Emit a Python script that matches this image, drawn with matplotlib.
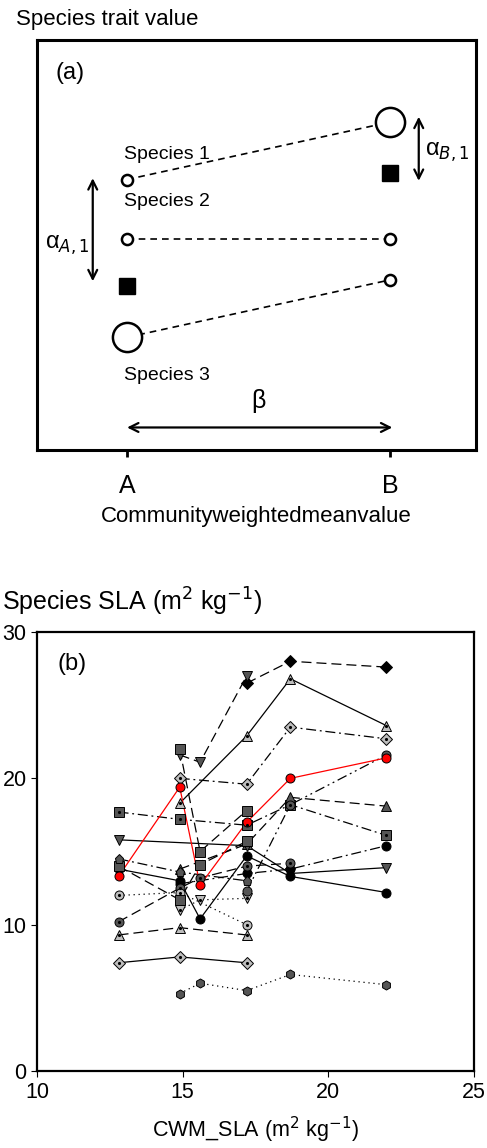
import numpy as np
import matplotlib
matplotlib.use("Agg")
import matplotlib.pyplot as plt

plt.rcParams['font.family'] = ['Liberation Sans', 'DejaVu Sans']

nan = np.nan

# ---- panel (a): schematic values (arbitrary trait units) ----
sites = [0.0, 1.0]
site_labels = ['A', 'B']
sp1 = [6.6, 8.0]
sp2 = [5.15, 5.15]
sp3 = [2.75, 4.15]
cwm = [4.0, 6.75]
big_at = {'sp1': 1, 'sp3': 0}

# ---- panel (b): species SLA vs community weighted mean SLA ----
cwm_sla = [12.8, 14.9, 15.6, 17.2, 18.7, 22.0]
s01 = [nan, nan, nan, 26.5, 28.0, 27.6]
s02 = [nan, 21.6, 21.1, 27.0, nan, nan]
s03 = [nan, 22.0, 15.0, 17.8, nan, nan]
s04 = [nan, 18.3, nan, 22.9, 26.8, 23.6]
s05 = [nan, 20.0, nan, 19.6, 23.5, 22.7]
s06 = [13.3, 19.4, 12.7, 17.0, 20.0, 21.4]
s07 = [17.7, 17.2, nan, 16.8, 18.2, 16.1]
s08 = [nan, 13.8, nan, 15.5, 18.7, 18.1]
s09 = [15.8, nan, nan, 15.4, 13.5, 13.9]
s10 = [13.8, 13.0, 10.4, 14.7, 13.3, 12.2]
s11 = [nan, 12.8, nan, 13.5, 13.8, 15.4]
s12 = [10.2, 12.5, 13.2, 14.0, 14.2, nan]
s13 = [12.0, 12.2, nan, 10.0, nan, nan]
s14 = [9.3, 9.8, nan, 9.3, nan, nan]
s15 = [7.4, 7.8, nan, 7.4, nan, nan]
s16 = [nan, 5.3, 6.0, 5.5, 6.6, 5.9]
s17 = [nan, 11.0, 11.7, 11.8, nan, nan]
s18 = [14.0, 11.7, 14.1, 15.7, nan, nan]
s19 = [14.5, 13.6, nan, 13.0, nan, nan]
s20 = [nan, nan, nan, 12.3, 18.2, 21.6]

BLK, DRK, LGT = 'black', '#555555', '#bdbdbd'
dash = (0, (8, 4))
ddot = (0, (8, 3, 1.5, 3))
dddot = (0, (8, 3, 1.5, 3, 1.5, 3))
dot = (0, (1, 3))
# (values, marker, face, linestyle, centre dot, colour of line)
series = [
    (s01, 'D', BLK, dash, False, 'black'),
    (s02, 'v', DRK, dash, False, 'black'),
    (s03, 's', DRK, dash, False, 'black'),
    (s04, '^', LGT, '-', True, 'black'),
    (s05, 'D', LGT, ddot, True, 'black'),
    (s07, 's', DRK, ddot, True, 'black'),
    (s08, '^', DRK, dash, False, 'black'),
    (s09, 'v', DRK, '-', False, 'black'),
    (s10, 'o', BLK, '-', False, 'black'),
    (s11, 'o', BLK, ddot, False, 'black'),
    (s12, 'o', DRK, dash, True, 'black'),
    (s13, 'o', LGT, dot, True, 'black'),
    (s14, '^', LGT, dash, True, 'black'),
    (s15, 'D', LGT, '-', True, 'black'),
    (s16, 'h', DRK, dot, False, 'black'),
    (s17, 'v', LGT, dot, True, 'black'),
    (s18, 's', DRK, dash, False, 'black'),
    (s19, 'p', DRK, ddot, False, 'black'),
    (s20, 'o', DRK, dddot, False, 'black'),
    (s06, 'o', 'red', '-', False, 'red'),
]

fig = plt.figure(figsize=(4.87, 11.48), dpi=100)

# ================= panel (a) =================
axa = fig.add_axes([0.076, 0.608, 0.901, 0.357])
axa.set_xlim(-0.342, 1.327)
axa.set_ylim(0, 10)
for sp in axa.spines.values():
    sp.set_linewidth(2.2)
axa.set_yticks([])
axa.set_xticks(sites)
axa.set_xticklabels(site_labels, fontsize=18)
axa.tick_params(axis='x', direction='out', length=5, width=2, pad=12)

for name, vals in (('sp1', sp1), ('sp2', sp2), ('sp3', sp3)):
    axa.plot(sites, vals, ls=(0, (4, 3)), color='black', lw=1.2, zorder=1)
    for i, (x, y) in enumerate(zip(sites, vals)):
        ms = 21 if big_at.get(name) == i else 8
        axa.plot(x, y, 'o', ms=ms, mfc='white', mec='black', mew=1.8, zorder=3)
axa.plot(sites, cwm, 's', ms=12, mfc='black', mec='black', ls='none')

axa.text(-0.01, sp1[0] + 0.5, 'Species 1', fontsize=14)
axa.text(-0.01, sp2[0] + 0.8, 'Species 2', fontsize=14)
axa.text(-0.01, sp3[0] - 1.05, 'Species 3', fontsize=14)
axa.text(-0.27, 9.05, '(a)', fontsize=17)

arr = dict(arrowstyle='<->', color='black', lw=1.6, mutation_scale=16)
axa.annotate('', xy=(-0.13, sp1[0] + 0.1), xytext=(-0.13, cwm[0] + 0.05), arrowprops=arr)
axa.annotate('', xy=(1.11, 8.2), xytext=(1.11, 6.5), arrowprops=arr)
axa.annotate('', xy=(-0.01, 0.55), xytext=(1.02, 0.55), arrowprops=arr)
axa.text(-0.225, 5.0, r'α$_{A,1}$', fontsize=17, ha='center', va='center')
axa.text(1.22, 7.25, r'α$_{B,1}$', fontsize=17, ha='center', va='center')
axa.text(0.5, 1.2, 'β', fontsize=18, ha='center', va='center')
axa.set_xlabel('Communityweightedmeanvalue', fontsize=16, labelpad=6)
fig.text(0.033, 0.983, 'Species trait value', fontsize=16, va='center')

# ================= panel (b) =================
axb = fig.add_axes([0.076, 0.067, 0.897, 0.3825])
x = np.array(cwm_sla)
for vals, mk, fc, ls, cdot, lc in series:
    y = np.array(vals)
    m = ~np.isnan(y)
    axb.plot(x[m], y[m], ls=ls, color=lc, lw=0.9, zorder=2)
    axb.plot(x[m], y[m], mk, ms=6.5, mfc=fc, mec='black', mew=0.7, ls='none', zorder=3)
    if cdot:
        axb.plot(x[m], y[m], '.', ms=2.5, color='black', ls='none', zorder=4)

axb.set_xlim(10, 25)
axb.set_ylim(0, 30)
axb.set_xticks([10, 15, 20, 25])
axb.set_yticks([0, 10, 20, 30])
axb.tick_params(labelsize=15.5, direction='out', length=4)
for sp in axb.spines.values():
    sp.set_linewidth(1.6)
axb.text(10.7, 27.4, '(b)', fontsize=17)
axb.set_xlabel(r'CWM_SLA (m$^2$ kg$^{-1}$)', fontsize=15.5, labelpad=9)
fig.text(0.004, 0.476, r'Species SLA (m$^2$ kg$^{-1}$)', fontsize=18, va='center')

fig.savefig('out.png', dpi=100)
